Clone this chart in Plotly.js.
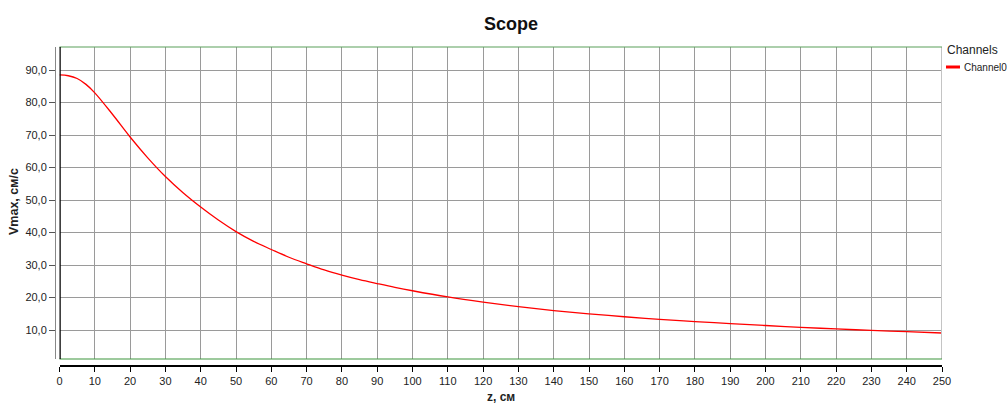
<!DOCTYPE html>
<html>
<head>
<meta charset="utf-8">
<script src="https://cdn.plot.ly/plotly-3.0.1.min.js"></script>
<style>html,body{margin:0;padding:0;background:#fff;}#chart{width:1007px;height:405px;}</style>
</head>
<body>
<div id="chart"></div>
<script>
const zValues = [0, 2.5, 5, 7.5, 10, 15, 20, 25, 30, 35, 40, 45, 50, 55, 60, 65, 70, 75, 80, 85, 90, 95, 100, 110, 120, 130, 140, 150, 160, 170, 180, 190, 200, 210, 220, 230, 240, 250];
const vmaxValues = [88.5, 88.25, 87.4, 85.6, 83.0, 76.4, 69.4, 63.0, 57.25, 52.25, 47.85, 43.85, 40.3, 37.3, 34.8, 32.4, 30.4, 28.5, 26.9, 25.5, 24.3, 23.15, 22.1, 20.2, 18.6, 17.2, 16.0, 15.0, 14.1, 13.3, 12.6, 12.0, 11.4, 10.85, 10.35, 9.9, 9.5, 9.1];
const seriesName = 'Channel0';
const legendTitle = 'Channels';
const chartTitle = 'Scope';
const xTitle = 'z, см';
const yTitle = 'Vmax, см/с';
const xTicks = [0,10,20,30,40,50,60,70,80,90,100,110,120,130,140,150,160,170,180,190,200,210,220,230,240,250];
const yTicks = [10,20,30,40,50,60,70,80,90];

const font = 'Liberation Sans, Arial, sans-serif';
const W = 1007, H = 405;
const ml = 55, mr = 65, mt = 47, mb = 40;
const pw = W - ml - mr, ph = H - mt - mb;
const xd0 = 4.5 / pw, yd0 = 6 / ph;

const trace = {
  x: zValues, y: vmaxValues, type: 'scatter', mode: 'lines', name: seriesName,
  line: {color: '#ff0000', width: 1.3, shape: 'spline', smoothing: 1},
  showlegend: false, hoverinfo: 'skip'
};

const layout = {
  width: W, height: H,
  margin: {l: ml, r: mr, t: mt, b: mb, pad: 0},
  paper_bgcolor: '#ffffff', plot_bgcolor: '#ffffff',
  separators: ',.',
  font: {family: font, size: 11, color: '#222'},
  xaxis: {
    domain: [xd0, 1], range: [0, 250], anchor: 'free', position: 0,
    tickvals: xTicks, ticktext: xTicks.map(String),
    ticks: 'outside', ticklen: 5, tickcolor: '#000', tickwidth: 1,
    showline: true, linecolor: '#000', linewidth: 1.5,
    showgrid: true, gridcolor: '#9a9a9a', gridwidth: 1,
    zeroline: false, tickfont: {family: font, size: 11, color: '#222'}
  },
  yaxis: {
    domain: [yd0, 1], range: [1.1, 97.1], anchor: 'free', position: 0,
    tickvals: yTicks, tickformat: '.1f',
    ticks: 'outside', ticklen: 6, tickcolor: '#555', tickwidth: 1,
    showline: true, linecolor: '#888', linewidth: 1,
    showgrid: true, gridcolor: '#9a9a9a', gridwidth: 1,
    zeroline: false, tickfont: {family: font, size: 11, color: '#222'}
  },
  shapes: [
    {type: 'line', xref: 'x', yref: 'paper', x0: 250, x1: 250, y0: yd0, y1: 1, line: {color: '#c4c4c4', width: 2}},
    {type: 'line', xref: 'paper', yref: 'paper', x0: xd0, x1: 1, y0: 1, y1: 1, line: {color: '#5aa05a', width: 1.2}},
    {type: 'line', xref: 'paper', yref: 'paper', x0: xd0, x1: 1, y0: yd0, y1: yd0, line: {color: '#3c963c', width: 1.2}},
    {type: 'line', xref: 'x', yref: 'paper', x0: 0, x1: 0, y0: yd0, y1: 1, line: {color: '#000', width: 2.5}},
    {type: 'line', xref: 'paper', yref: 'paper', x0: 1 + 4/pw, x1: 1 + 18/pw, y0: 1 - 20/ph, y1: 1 - 20/ph, line: {color: '#ff0000', width: 3}}
  ],
  annotations: [
    {text: '<b>' + chartTitle + '</b>', xref: 'paper', yref: 'paper', x: (511 - ml) / pw, y: 1 + 23/ph, showarrow: false, xanchor: 'center', yanchor: 'middle', font: {family: font, size: 18, color: '#111'}},
    {text: '<b>' + xTitle + '</b>', xref: 'paper', yref: 'paper', x: (501 - ml) / pw, y: -32/ph, showarrow: false, xanchor: 'center', yanchor: 'middle', font: {family: font, size: 12, color: '#222'}},
    {text: '<b>' + yTitle + '</b>', xref: 'paper', yref: 'paper', x: (14 - ml) / pw, y: ((H - mb) - 202) / ph, showarrow: false, textangle: -90, xanchor: 'center', yanchor: 'middle', font: {family: font, size: 12.5, color: '#222'}},
    {text: legendTitle, xref: 'paper', yref: 'paper', x: 1 + 3/pw, y: 1 - 3/ph, showarrow: false, xanchor: 'left', yanchor: 'middle', font: {family: font, size: 12, color: '#222'}},
    {text: seriesName, xref: 'paper', yref: 'paper', x: 1 + 20/pw, y: 1 - 20/ph, showarrow: false, xanchor: 'left', yanchor: 'middle', font: {family: font, size: 10, color: '#222'}}
  ]
};

Plotly.newPlot('chart', [trace], layout, {displayModeBar: false, staticPlot: true});
</script>
</body>
</html>
